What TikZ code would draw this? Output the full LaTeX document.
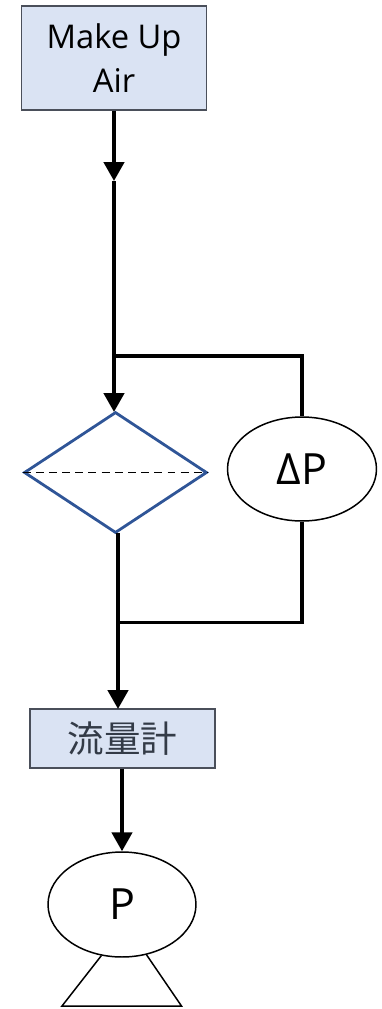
\documentclass[tikz,border=0pt]{standalone}
\usepackage{fontspec}
\setmainfont{Open Sans}
\newfontfamily\cjk{Noto Sans CJK JP}
\usetikzlibrary{arrows.meta,shapes.geometric}
\definecolor{boxfill}{HTML}{DAE3F3}
\definecolor{boxline}{HTML}{4A4F5A}
\definecolor{valveline}{HTML}{2F5597}
\definecolor{kanjitext}{HTML}{333B47}
\tikzset{
  pipe/.style={line width=2.2pt},
  flow/.style={pipe,-{Triangle[width=11.5pt,length=10.8pt]}},
  tag/.style={draw=boxline,fill=boxfill,line width=0.7pt,inner sep=0,align=center},
  gauge/.style={draw,ellipse,line width=0.85pt,inner sep=0,font=\fontsize{24.5}{28}\selectfont},
}
\begin{document}
\begin{tikzpicture}[x=0.02cm,y=-0.02cm]
  \useasboundingbox (0,0) rectangle (382,1009);

  % make up air
  \node[tag,minimum width=3.69cm,minimum height=2.08cm,font=\fontsize{18.6}{25.5}\selectfont] (air) at (114,58) {Make Up\\Air};
  \coordinate (airflow) at (114,181);
  \coordinate (upperjoin) at (114,356);
  \draw[flow] (air.south -| airflow) -- (airflow);
  \draw[flow] (airflow) -- (114,412);

  % valve
  \node[diamond,draw=valveline,line width=1.6pt,inner sep=0,minimum width=3.66cm,minimum height=2.42cm] (valve) at (115.5,472.5) {};
  \draw[line width=0.8pt,dash pattern=on 4.5pt off 3pt] (valve.west) -- (valve.east);

  % delta P
  \node[gauge,minimum width=2.98cm,minimum height=2.08cm] (dp) at (302,469) {ΔP};
  \draw[pipe,line width=2pt] (upperjoin) -| (dp.north);

  % lower pipe
  \coordinate (lowerjoin) at (118,622.5);
  \node[tag,minimum width=3.7cm,minimum height=1.18cm,font=\fontsize{20.8}{24}\cjk,text=kanjitext] (meter) at (122.5,738.5) {流量計};
  \draw[flow] (118,533) -- (118,709);
  \draw[pipe,line width=2pt] (dp.south) |- (lowerjoin);

  % pump
  \node[gauge,minimum width=2.96cm,minimum height=2.1cm] (pump) at (122,904.5) {P};
  \draw[flow] (meter.south -| pump) -- (pump.north);
  \coordinate (footleft) at (62,1006);
  \coordinate (footright) at (181.5,1006);
  \draw[line width=0.85pt] (pump.-112) -- (footleft) -- (footright) -- (pump.-64.5);
\end{tikzpicture}
\end{document}
